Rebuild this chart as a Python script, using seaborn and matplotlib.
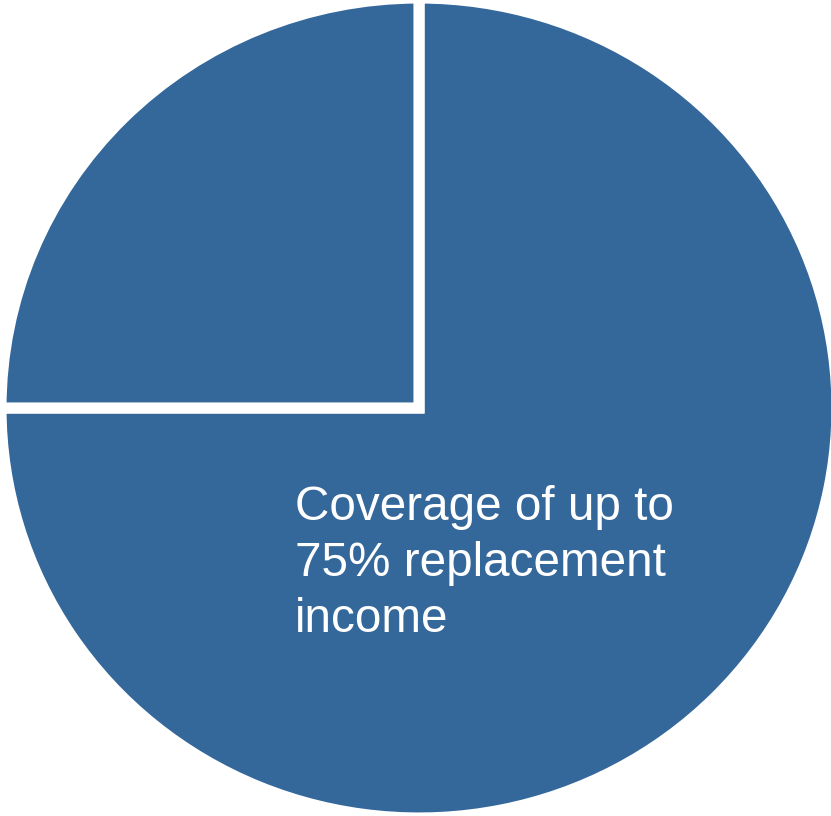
import matplotlib
matplotlib.use('Agg')
import matplotlib.pyplot as plt
import seaborn as sns

sns.set_style('white')
plt.rcParams['font.family'] = ['Liberation Sans', 'DejaVu Sans']

labels = ['Coverage of up to 75% replacement income', 'Other']
shares = [75, 25]
colors = ['#34679a', '#34679a']

fig = plt.figure(figsize=(8.31, 8.16), dpi=100)
ax = fig.add_axes([0, 0, 1, 1])

rx, ry = 418, 410
ax.pie(shares, colors=colors, startangle=90, counterclock=False,
       wedgeprops=dict(edgecolor='white', linewidth=8))
ax.set_aspect('auto')
ax.set_xlim(-419 / rx, 412 / rx)
ax.set_ylim(-408 / ry, 408 / ry)
ax.axis('off')

fig.text(295 / 831, 1 - 485 / 816, 'Coverage of up to\n75% replacement\nincome',
         color='white', fontsize=34.3, ha='left', va='top', linespacing=1.31)

fig.savefig('out.png', dpi=100)
